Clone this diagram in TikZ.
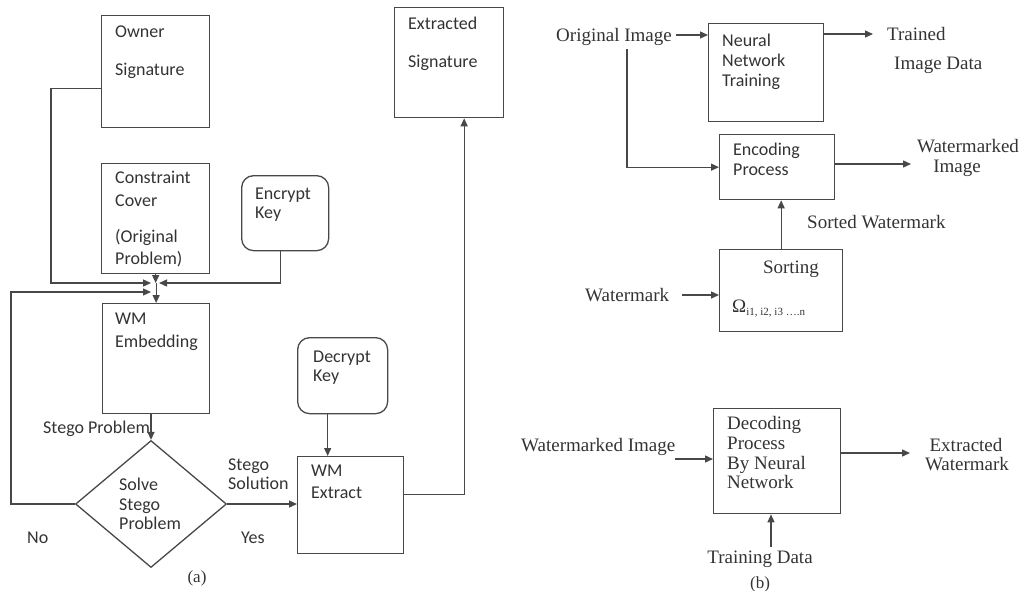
\documentclass[tikz,border=0pt]{standalone}
\usepackage{fontspec}
\setmainfont{Liberation Serif}
\newfontfamily\calfont{Carlito}
\usetikzlibrary{shapes.geometric,arrows.meta}

\definecolor{linecol}{HTML}{484848}
\definecolor{textcol}{HTML}{333333}

\tikzset{
  box/.style={draw=linecol, line width=1.3pt, anchor=north west, inner sep=0pt},
  stxt/.style={inner sep=0pt, text=textcol, text height=11.6pt, text depth=0pt,
    font=\calfont\fontsize{18}{20}\selectfont},
  rtxt/.style={inner sep=0pt, text=textcol, text height=12.5pt, text depth=0pt,
    font=\fontsize{19}{21}\selectfont},
  wire/.style={draw=linecol, line width=1.3pt},
  conn/.style={wire, -{Triangle[length=8pt,width=7pt]}}
}

\begin{document}
\begin{tikzpicture}[x=1pt, y=-1pt]
\useasboundingbox (0,0) rectangle (1024,590);

% (a)
\node[box, minimum width=108pt, minimum height=112pt] (owner) at (101,15) {};
\node[stxt, anchor=west] (ownerA) at (115,32) {Owner};
\node[stxt, anchor=west] (ownerB) at (115,70) {Signature};

\node[box, minimum width=108pt, minimum height=110pt] (constr) at (101,163) {};
\node[stxt, anchor=west] (constrA) at (115,178) {Constraint};
\node[stxt, anchor=west] (constrB) at (115,201) {Cover};
\node[stxt, anchor=west] (constrC) at (115,237) {(Original};
\node[stxt, anchor=west] (constrD) at (115,259) {Problem)};

\node[box, rounded corners=12pt, minimum width=87pt, minimum height=75pt] (encrypt) at (241,175) {};
\node[stxt, anchor=west] (encryptA) at (255,194) {Encrypt};
\node[stxt, anchor=west] (encryptB) at (255,213) {Key};

\node[box, minimum width=107pt, minimum height=110pt] (embed) at (102,303) {};
\node[stxt, anchor=west] (embedA) at (115,319) {WM};
\node[stxt, anchor=west] (embedB) at (115,342) {Embedding};

\node[draw=linecol, line width=1.3pt, diamond, inner sep=0pt, minimum width=151pt, minimum height=127pt] (solve) at (151,504) {};
\node[stxt, anchor=west] (solveA) at (119,485) {Solve};
\node[stxt, anchor=west] (solveB) at (119,505) {Stego};
\node[stxt, anchor=west] (solveC) at (119,524) {Problem};

\node[stxt, anchor=west] (stegoprob) at (43,428) {Stego Problem};
\node[stxt, anchor=west] (no) at (27,538) {No};
\node[stxt, anchor=west] (yes) at (241,538) {Yes};
\node[stxt, anchor=west] (stegosolA) at (228,465) {Stego};
\node[stxt, anchor=west] (stegosolB) at (228,484) {Solution};

\node[box, rounded corners=12pt, minimum width=90pt, minimum height=76pt] (decrypt) at (297,337) {};
\node[stxt, anchor=west] (decryptA) at (313,357) {Decrypt};
\node[stxt, anchor=west] (decryptB) at (313,376) {Key};

\node[box, minimum width=106pt, minimum height=97pt] (extract) at (297,456) {};
\node[stxt, anchor=west] (extractA) at (311,471) {WM};
\node[stxt, anchor=west] (extractB) at (311,493) {Extract};

\node[box, minimum width=109pt, minimum height=110pt] (extsig) at (394,7) {};
\node[stxt, anchor=west] (extsigA) at (408,24) {Extracted};
\node[stxt, anchor=west] (extsigB) at (408,62) {Signature};

\node[rtxt, font=\fontsize{17}{19}\selectfont] (capa) at (197,576) {(a)};

\coordinate (join) at (155,283);
\coordinate (join2) at (155,292);

\draw[conn] (constr.south) -- (constr.south |- join);
\draw[conn] ([yshift=-17pt]owner.west) -- ++(-50,0) |- ([xshift=-4pt]join);
\draw[conn] ([xshift=-5pt]encrypt.south) |- ([xshift=4pt]join);
\draw[conn] (solve.west) -- ++(-64,0) |- ([xshift=-4pt]join2);
\draw[conn] (embed.north |- join) -- (embed.north);
\draw[conn] (solve.north |- embed.south) -- (solve.north);
\draw[conn] (solve.east) -- (solve.east -| extract.west);
\draw[conn] ([xshift=-15pt]decrypt.south) -- ([xshift=-15pt]decrypt.south |- extract.north);
\draw[conn] ([yshift=11pt]extract.east) -| ([xshift=15pt]extsig.south);

% (b)
\node[rtxt, anchor=west] (orig) at (556,35) {Original Image};
\node[box, minimum width=115pt, minimum height=98pt] (nn) at (708,23) {};
\node[stxt, anchor=west] (nnA) at (722,41) {Neural};
\node[stxt, anchor=west] (nnB) at (722,61) {Network};
\node[stxt, anchor=west] (nnC) at (722,81) {Training};
\node[rtxt, anchor=west] (trained) at (887,34) {Trained};
\node[rtxt, anchor=west] (imgdata) at (894,63) {Image Data};

\node[box, minimum width=115pt, minimum height=65pt] (enc) at (719,134) {};
\node[stxt, anchor=west] (encA) at (733,150) {Encoding};
\node[stxt, anchor=west] (encB) at (733,170) {Process};
\node[rtxt] (wmimgA) at (968,146) {Watermarked};
\node[rtxt] (wmimgB) at (957,166) {Image};
\coordinate (encout) at (911,164);

\node[rtxt, anchor=west] (sorted) at (807,222) {Sorted Watermark};

\node[box, minimum width=123pt, minimum height=82pt] (sort) at (719,249) {};
\node[rtxt] (sortA) at (791,267) {Sorting};
\node[rtxt, anchor=west] (sortB) at (732,306) {Ω\raisebox{-3pt}{\fontsize{11}{13}\selectfont i1, i2, i3 ….n}};
\node[rtxt, anchor=west] (wm) at (585,295) {Watermark};

\draw[conn] ([xshift=4pt]orig.east) -- (nn.west |- orig.east);
\draw[conn] ([xshift=13pt]orig.south) ++(0,8) |- (enc.west);
\draw[conn] (nn.east |- trained.west) -- ([xshift=-14pt]trained.west);
\draw[conn] (enc.east |- encout) -- (encout);
\draw[conn] (sort.north) -- (sort.north |- enc.south);
\draw[conn] ([xshift=13pt]wm.east) -- (sort.west |- wm.east);

\node[box, minimum width=127pt, minimum height=105pt] (dec) at (713,408) {};
\node[rtxt, anchor=west] (decA) at (727,423) {Decoding};
\node[rtxt, anchor=west] (decB) at (727,443) {Process};
\node[rtxt, anchor=west] (decC) at (727,463) {By Neural};
\node[rtxt, anchor=west] (decD) at (727,482) {Network};
\node[rtxt, anchor=west] (wmimg) at (521,445) {Watermarked Image};
\node[rtxt] (extwmA) at (966,445) {Extracted};
\node[rtxt] (extwmB) at (967,464) {Watermark};
\node[rtxt] (training) at (760,557) {Training Data};
\node[rtxt, font=\fontsize{17}{19}\selectfont] (capb) at (760,582) {(b)};
\coordinate (decin) at (675,459);
\coordinate (decout) at (910,453);

\draw[conn] (decin) -- (dec.west |- decin);
\draw[conn] (dec.east |- decout) -- (decout);
\draw[conn] ([xshift=11pt]training.north) ++(0,-4) -- ([xshift=11pt]training.north |- dec.south);
\end{tikzpicture}
\end{document}
